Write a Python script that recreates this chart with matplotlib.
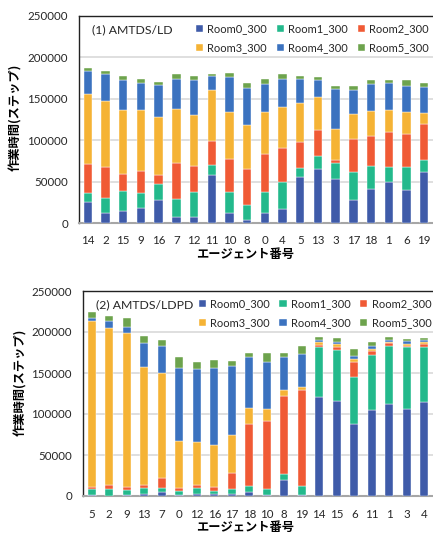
import matplotlib
matplotlib.use("Agg")
import matplotlib.pyplot as plt
import numpy as np

W, H = 433, 535

rooms = ["Room0_300", "Room1_300", "Room2_300", "Room3_300", "Room4_300", "Room5_300"]
colors = ["#3F5BA9", "#23B98C", "#F05A35", "#F5B335", "#3B72BF", "#6DA34D"]

# (1) AMTDS/LD
agents_ld = ["14", "2", "15", "9", "16", "7", "12", "11", "10", "8",
             "0", "4", "5", "13", "3", "17", "18", "1", "6", "19"]
ld_room0 = [25000, 12000, 14000, 18000, 28000, 7000, 7000, 57500, 12000, 4000,
            12000, 17000, 55000, 65000, 53000, 27500, 41500, 50000, 39500, 61000]
ld_room1 = [11000, 18500, 24500, 18500, 19000, 22000, 30000, 13000, 26000, 18000,
            25000, 32000, 11000, 16500, 20000, 34500, 27000, 18000, 28000, 14500]
ld_room2 = [35000, 37000, 20500, 26000, 11000, 44000, 32000, 28000, 39000, 43500,
            46000, 41000, 31500, 30500, 3500, 39000, 37000, 42000, 40500, 44000]
ld_room3 = [85000, 80000, 78000, 74000, 70000, 65000, 62000, 62000, 57500, 53000,
            51000, 50000, 48000, 40500, 36500, 30500, 30000, 26000, 25500, 13000]
ld_room4 = [27000, 32000, 35500, 33000, 39000, 36000, 42000, 17000, 42000, 45000,
            34000, 34000, 28500, 20000, 49000, 29500, 32000, 33500, 32000, 32000]
ld_room5 = [4000, 3500, 5000, 5000, 3000, 5500, 4000, 3000, 5000, 6000,
            6500, 6500, 3500, 3500, 3500, 4500, 5500, 3500, 7000, 5000]

# (2) AMTDS/LDPD
agents_ldpd = ["5", "2", "9", "13", "7", "0", "12", "16", "17", "18",
               "10", "8", "19", "14", "15", "6", "11", "1", "3", "4"]
ldpd_room0 = [1500, 500, 1000, 2000, 5000, 1000, 2000, 2000, 3000, 5000,
              1500, 19000, 1000, 121000, 116000, 88000, 104600, 112300, 106000, 114800]
ldpd_room1 = [6500, 8000, 6000, 7500, 4500, 4500, 7500, 3500, 6000, 7500,
              7500, 7300, 11000, 61000, 62000, 57000, 67600, 70900, 75700, 66800]
ldpd_room2 = [3000, 5000, 4000, 3500, 12000, 3700, 3500, 5000, 19000, 75000,
              82000, 95600, 117000, 2500, 4000, 18300, 4500, 2900, 1600, 3200]
ldpd_room3 = [202500, 191500, 187500, 144000, 128000, 58000, 52500, 51500, 46000, 20000,
              15500, 7000, 3500, 3300, 3000, 3300, 2000, 1900, 2400, 2500]
ldpd_room4 = [4000, 9000, 8000, 29500, 34000, 89000, 89500, 94000, 84000, 62500,
              57000, 40300, 40500, 2800, 3000, 4500, 4100, 2500, 2900, 2400]
ldpd_room5 = [6500, 5000, 10000, 9000, 6500, 13500, 9000, 9500, 7000, 4500,
              11500, 5200, 9500, 3000, 4500, 8100, 5200, 3300, 2800, 2500]

plt.rcParams["font.family"] = ["Lato", "Noto Sans CJK JP", "DejaVu Sans"]
jp = ["Noto Sans CJK JP", "DejaVu Sans"]


def box(l, t, r, b):
    # pixel box (left, top, right, bottom) -> figure fraction rect
    return [l / W, 1 - b / H, (r - l) / W, (b - t) / H]


def draw(ax, agents, series, title, title_xy, legend_anchor):
    x = np.arange(len(agents))
    bottom = np.zeros(len(agents))
    handles = []
    for vals, name, c in zip(series, rooms, colors):
        bars = ax.bar(x, vals, 0.47, bottom=bottom, color=c, label=name,
                      edgecolor="white", linewidth=0.3, zorder=3)
        bottom += np.array(vals)
        handles.append(bars)
    ax.set_xlim(-0.5, len(agents) - 0.5)
    ax.set_ylim(0, 250000)
    ax.set_yticks(np.arange(0, 250001, 50000))
    ax.set_xticks(x)
    ax.set_xticklabels(agents)
    ax.tick_params(length=0, labelsize=8.3, colors="#262626")
    ax.tick_params(axis="y", pad=8)
    ax.tick_params(axis="x", pad=9)
    ax.grid(axis="y", color="#D9D9D9", linewidth=1.2, zorder=0)
    ax.set_axisbelow(True)
    for s in ("top", "left"):
        ax.spines[s].set_color("#222222")
        ax.spines[s].set_linewidth(1.0)
    ax.spines["right"].set_visible(False)
    ax.spines["bottom"].set_color("#A6A6A6")
    ax.spines["bottom"].set_linewidth(1.5)
    ax.text(title_xy[0], title_xy[1], title, transform=ax.transAxes,
            fontsize=8.8, color="#262626", va="center", ha="left")
    # legend fills column by column, so reorder to read row by row
    order = [0, 3, 1, 4, 2, 5]
    ax.legend(handles=[handles[i] for i in order], ncol=3, loc="upper left",
              bbox_to_anchor=legend_anchor, frameon=False, fontsize=8.0,
              handlelength=0.65, handleheight=0.65, handletextpad=0.4,
              columnspacing=0.85, labelspacing=0.75, borderaxespad=0, borderpad=0,
              labelcolor="#262626")


fig = plt.figure(figsize=(W / 100, H / 100), dpi=100)

ax1 = fig.add_axes(box(79, 16, 433, 223))
draw(ax1, agents_ld,
     [ld_room0, ld_room1, ld_room2, ld_room3, ld_room4, ld_room5],
     "(1) AMTDS/LD", (0.037, 0.935), (0.33, 0.965))

ax2 = fig.add_axes(box(83, 291, 433, 496))
draw(ax2, agents_ldpd,
     [ldpd_room0, ldpd_room1, ldpd_room2, ldpd_room3, ldpd_room4, ldpd_room5],
     "(2) AMTDS/LDPD", (0.037, 0.935), (0.33, 0.965))

for yc, xl_y, yl_x in ((117, 254, 16), (382, 527, 21)):
    fig.text(yl_x / W, 1 - yc / H, "作業時間(ステップ)", rotation=90, ha="center", va="center",
             fontsize=8.8, fontweight="bold", family=jp)
    fig.text(245 / W, 1 - xl_y / H, "エージェント番号", ha="center", va="center",
             fontsize=8.8, fontweight="bold", family=jp)

fig.savefig("out.png", dpi=100)
